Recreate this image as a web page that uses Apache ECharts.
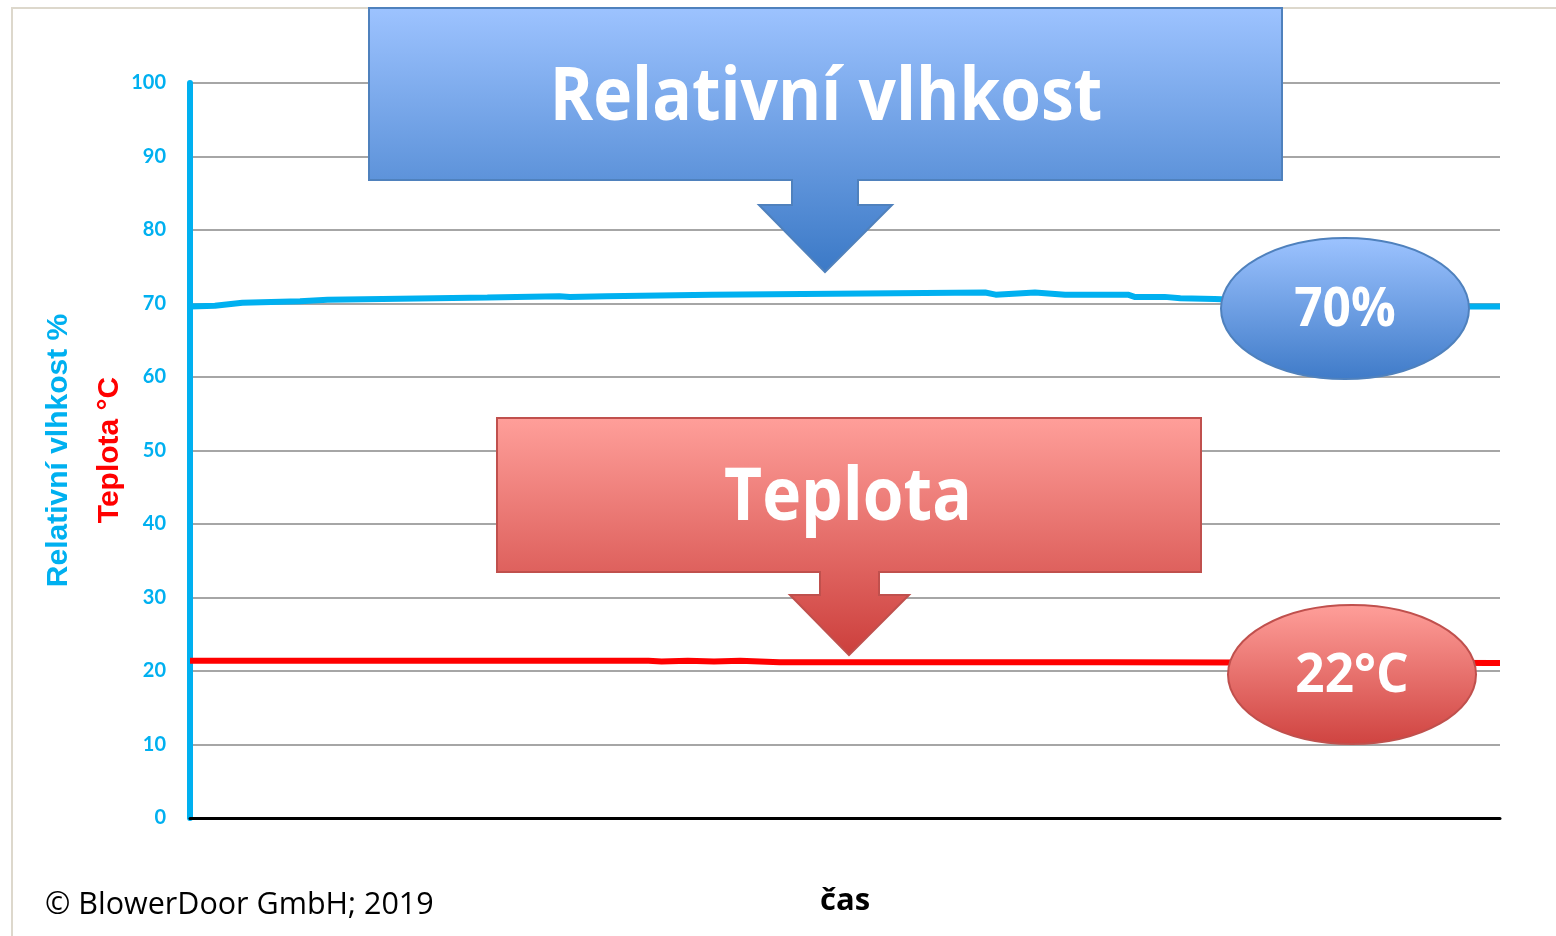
<!DOCTYPE html>
<html>
<head>
<meta charset="utf-8">
<title>Relativní vlhkost a teplota</title>
<script src="https://cdn.jsdelivr.net/npm/echarts@6/dist/echarts.min.js"></script>
<style>
html,body{margin:0;padding:0;background:#fff;}
#main{width:1556px;height:936px;}
</style>
</head>
<body>
<div id="main"></div>
<script>
// time in % of measurement duration
var timeRh = [0, 1.9, 4.0, 8.4, 10.5, 14.7, 22.7, 28.2, 29.0, 31.8, 39.8, 60.7, 61.5, 64.5, 66.8, 71.6, 72.1, 74.4, 75.6, 78.2, 84.7, 92.4, 97.7, 100];
var humidity = [69.6, 69.7, 70.1, 70.3, 70.5, 70.6, 70.8, 71.0, 70.9, 71.0, 71.2, 71.5, 71.2, 71.5, 71.2, 71.2, 70.9, 70.9, 70.7, 70.6, 70.2, 69.8, 69.6, 69.6];
var timeT = [0, 35, 36, 38, 40, 42, 45, 70, 100];
var temperature = [21.4, 21.4, 21.3, 21.4, 21.3, 21.4, 21.2, 21.2, 21.1];
var yTicks = [0, 10, 20, 30, 40, 50, 60, 70, 80, 90, 100];

var rhName = 'Relativní vlhkost %';
var tName = 'Teplota °C';
var xName = 'čas';
var rhBox = 'Relativní vlhkost';
var tBox = 'Teplota';
var rhValue = '70%';
var tValue = '22°C';
var credit = '© BlowerDoor GmbH; 2019';

function pairs(xs, ys) {
	var out = [];
	for (var i = 0; i < xs.length; i++) {
		out.push([xs[i], ys[i]]);
	}
	return out;
}

function grad(top, bottom) {
	return new echarts.graphic.LinearGradient(0, 0, 0, 1, [
		{offset: 0, color: top},
		{offset: 1, color: bottom}
	]);
}

var cyan = '#00b0f0';
var boxFont = 'bold 74px "Open Sans"';
var ovalFont = 'bold 54px "Open Sans"';

var myChart = echarts.init(document.getElementById('main'));
var option = {
	animation: false,
	backgroundColor: '#fff',
	grid: {left: 190, right: 56, top: 83, bottom: 118},
	xAxis: {
		type: 'value',
		min: 0,
		max: 100,
		name: xName,
		nameLocation: 'middle',
		nameGap: 68,
		nameTextStyle: {color: '#000', fontSize: 31, fontWeight: 'bold', fontFamily: 'Open Sans'},
		axisLine: {show: true, lineStyle: {color: '#000', width: 3}},
		axisTick: {show: false},
		axisLabel: {show: false},
		splitLine: {show: false}
	},
	yAxis: {
		type: 'value',
		min: yTicks[0],
		max: yTicks[yTicks.length - 1],
		interval: yTicks[1] - yTicks[0],
		name: rhName,
		nameLocation: 'middle',
		nameRotate: 90,
		nameGap: 116,
		nameTextStyle: {color: cyan, fontSize: 30, fontWeight: 'bold', fontFamily: 'Liberation Sans'},
		axisLine: {show: true, onZero: false, lineStyle: {color: cyan, width: 6}},
		axisTick: {show: false},
		axisLabel: {color: cyan, fontSize: 20, fontWeight: 'bold', fontFamily: 'Lato', margin: 24},
		splitLine: {show: true, lineStyle: {color: '#a6a6a6', width: 2}}
	},
	series: [
		{
			name: rhName,
			type: 'line',
			data: pairs(timeRh, humidity),
			showSymbol: false,
			lineStyle: {color: cyan, width: 6},
			z: 3
		},
		{
			name: tName,
			type: 'line',
			data: pairs(timeT, temperature),
			showSymbol: false,
			lineStyle: {color: '#ff0000', width: 6},
			z: 3
		}
	],
	graphic: [
		// frame
		{type: 'polyline', shape: {points: [[12, 936], [12, 8], [1556, 8]]},
			style: {stroke: '#ddd8cc', lineWidth: 2, fill: null}, z: 1},
		{type: 'text', rotation: Math.PI / 2, x: 110, y: 450,
			style: {text: tName, fill: '#ff0000', font: 'bold 30px "Liberation Sans"', textAlign: 'center', textVerticalAlign: 'middle'}},
		{type: 'text', x: 45, y: 905,
			style: {text: credit, fill: '#000', font: '30.5px "Open Sans"', textAlign: 'left', textVerticalAlign: 'middle'}},
		// humidity callout
		{type: 'polygon', z: 10,
			shape: {points: [[369, 8], [1282, 8], [1282, 180], [858, 180], [858, 205], [892, 205], [825, 272], [759, 205], [792, 205], [792, 180], [369, 180]]},
			style: {fill: grad('#9dc3ff', '#3b79c6'), stroke: '#4f81bd', lineWidth: 2}},
		{type: 'text', z: 11, x: 826, y: 99, scaleX: 0.89,
			style: {text: rhBox, fill: '#fff', font: boxFont, textAlign: 'center', textVerticalAlign: 'middle'}},
		{type: 'ellipse', z: 10, shape: {cx: 1345, cy: 308.5, rx: 124, ry: 70.5},
			style: {fill: grad('#9dc3ff', '#3f7bc8'), stroke: '#4f81bd', lineWidth: 2}},
		{type: 'text', z: 11, x: 1345, y: 311, scaleX: 0.92,
			style: {text: rhValue, fill: '#fff', font: ovalFont, textAlign: 'center', textVerticalAlign: 'middle'}},
		// temperature callout
		{type: 'polygon', z: 10,
			shape: {points: [[497, 418], [1201, 418], [1201, 572], [879, 572], [879, 595], [909, 595], [849, 655], [790, 595], [820, 595], [820, 572], [497, 572]]},
			style: {fill: grad('#ff9f9a', '#cc3f3c'), stroke: '#c0504d', lineWidth: 2}},
		{type: 'text', z: 11, x: 848, y: 499, scaleX: 0.89,
			style: {text: tBox, fill: '#fff', font: boxFont, textAlign: 'center', textVerticalAlign: 'middle'}},
		{type: 'ellipse', z: 10, shape: {cx: 1352, cy: 674.5, rx: 124, ry: 69.5},
			style: {fill: grad('#ff9f9a', '#cf4340'), stroke: '#c0504d', lineWidth: 2}},
		{type: 'text', z: 11, x: 1352, y: 677, scaleX: 0.95,
			style: {text: tValue, fill: '#fff', font: ovalFont, textAlign: 'center', textVerticalAlign: 'middle'}}
	]
};
myChart.setOption(option);
window.addEventListener("resize", function () {
	myChart.resize();
});
</script>
</body>
</html>
